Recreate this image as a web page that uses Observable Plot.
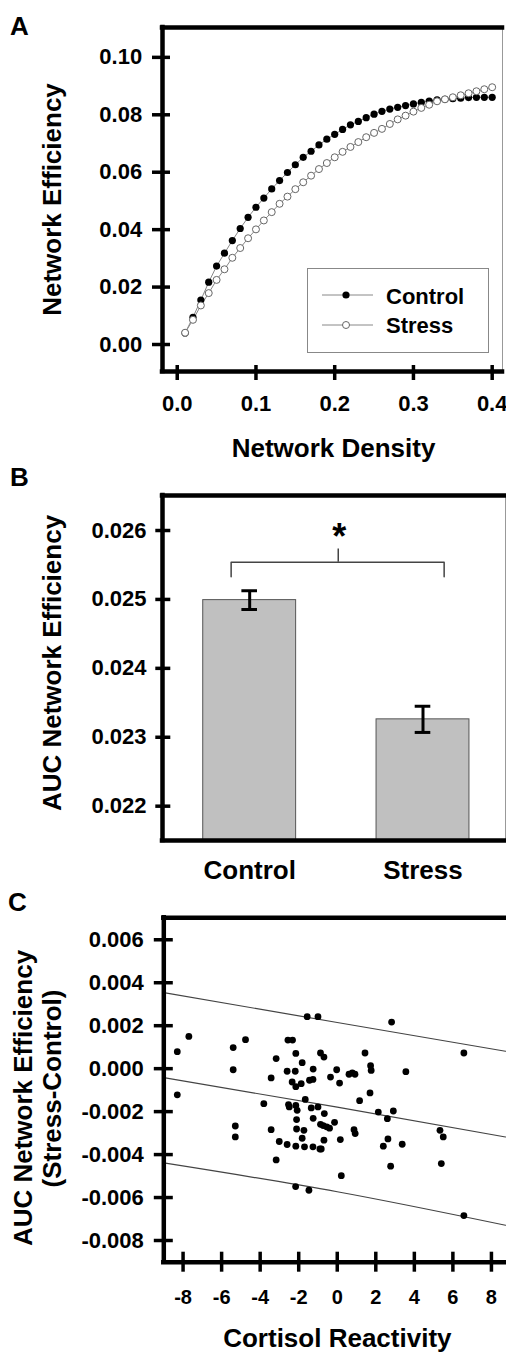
<!DOCTYPE html>
<html><head><meta charset="utf-8">
<script src="https://cdn.jsdelivr.net/npm/d3@7"></script>
<script src="https://cdn.jsdelivr.net/npm/@observablehq/plot@0.6"></script>
<style>
body{margin:0;background:#fff;}
#wrap{position:relative;width:506px;height:1355px;overflow:hidden;font-family:'Liberation Sans',Arial,sans-serif;background:#fff;}
.panel{position:absolute;left:0;}
#over{position:absolute;left:0;top:0;pointer-events:none;}
</style></head><body>
<div id="wrap">
  <div class="panel" id="pa" style="top:0px"></div>
  <div class="panel" id="pb" style="top:470px"></div>
  <div class="panel" id="pc" style="top:890px"></div>
  <svg id="over" width="506" height="1355" font-family="'Liberation Sans',Arial,sans-serif" font-weight="bold">
    <text x="10" y="35" font-size="26">A</text>
    <text x="10" y="486" font-size="26">B</text>
    <text x="8" y="911" font-size="26">C</text>
    <g id="legend">
      <rect x="307.5" y="268.5" width="181" height="84" fill="#fff" stroke="#888" stroke-width="1"></rect>
      <line x1="322" x2="373" y1="295" y2="295" stroke="#888" stroke-width="1"></line>
      <circle cx="346" cy="295" r="3.6" fill="#000"></circle>
      <text x="386" y="304" font-size="22">Control</text>
      <line x1="322" x2="373" y1="325" y2="325" stroke="#888" stroke-width="1"></line>
      <circle cx="346" cy="325" r="3.5" fill="#fff" stroke="#666" stroke-width="1"></circle>
      <text x="386" y="333" font-size="22">Stress</text>
    </g>
  </svg>
</div>
<script>
// ---------- Panel A data ----------
const density = [0.01,0.02,0.03,0.04,0.05,0.06,0.07,0.08,0.09,0.10,0.11,0.12,0.13,0.14,0.15,0.16,0.17,0.18,0.19,0.20,0.21,0.22,0.23,0.24,0.25,0.26,0.27,0.28,0.29,0.30,0.31,0.32,0.33,0.34,0.35,0.36,0.37,0.38,0.39,0.40];
const controlEff = [0.0040,0.0095,0.0155,0.0217,0.0273,0.0318,0.0362,0.0404,0.0443,0.0478,0.0510,0.0542,0.0571,0.0599,0.0626,0.0652,0.0673,0.0695,0.0715,0.0732,0.0749,0.0765,0.0777,0.0790,0.0802,0.0812,0.0820,0.0826,0.0832,0.0838,0.0843,0.0848,0.0852,0.0854,0.0856,0.0858,0.0860,0.0861,0.0861,0.0861];
const stressEff = [0.0041,0.0086,0.0136,0.0179,0.0225,0.0262,0.0302,0.0336,0.0370,0.0401,0.0432,0.0461,0.0490,0.0515,0.0541,0.0565,0.0588,0.0611,0.0632,0.0652,0.0671,0.0688,0.0705,0.0722,0.0737,0.0751,0.0768,0.0784,0.0797,0.0811,0.0824,0.0835,0.0847,0.0854,0.0861,0.0868,0.0875,0.0882,0.0889,0.0896];
const effTicks = [0.00,0.02,0.04,0.06,0.08,0.10];
const densityTicks = [0.0,0.1,0.2,0.3,0.4];

// ---------- Panel B data ----------
const groups = ["Control","Stress"];
const aucMean = [0.02499,0.02326];
const aucSE = [0.000136,0.00019];
const aucTicks = [0.022,0.023,0.024,0.025,0.026];

// ---------- Panel C data ----------
const cortisol = [-8.30,-7.70,-8.30,-5.40,-5.40,-4.76,-5.29,-5.29,-3.81,-3.43,
 -3.17,-3.43,-3.01,-3.17,-2.56,-2.32,-2.15,-1.82,-2.60,-2.18,
 -2.34,-2.15,-1.87,-1.44,-1.26,-1.25,-1.56,-1.00,-0.87,-0.69,
 -0.35,-0.03,0.12,0.61,0.78,0.92,1.44,1.73,1.76,2.82,
 3.56,6.57,1.70,1.16,-1.66,-2.53,-2.49,-2.15,-2.08,-1.35,
 -1.00,-1.25,-0.67,-2.11,-0.87,-0.73,-0.55,-0.40,-0.14,-2.11,
 -1.73,-0.69,-1.82,-2.60,-2.15,-1.70,-1.26,-0.90,-0.83,0.16,
 0.87,0.93,2.13,2.60,2.91,2.63,2.39,3.37,5.33,5.50,
 5.40,2.77,0.21,-2.16,-1.47,6.57];
const aucDiff = [0.00079,0.00150,-0.00122,0.00098,-0.00005,0.00135,-0.00267,-0.00318,-0.00163,-0.00043,
 0.00047,-0.00284,-0.00339,-0.00425,0.00133,0.00133,0.00071,0.00028,-0.00012,-0.00012,
 -0.00062,-0.00084,-0.00070,-0.00054,-0.00050,-0.00002,0.00242,0.00242,0.00073,0.00054,
 -0.00039,-0.00005,-0.00067,-0.00026,-0.00020,-0.00026,0.00073,0.00014,-0.00008,0.00217,
 -0.00014,0.00073,-0.00113,-0.00149,-0.00143,-0.00167,-0.00178,-0.00171,-0.00194,-0.00183,
 -0.00178,-0.00231,-0.00209,-0.00237,-0.00259,-0.00265,-0.00271,-0.00277,-0.00250,-0.00281,
 -0.00287,-0.00333,-0.00324,-0.00353,-0.00361,-0.00364,-0.00364,-0.00374,-0.00374,-0.00330,
 -0.00284,-0.00302,-0.00202,-0.00233,-0.00197,-0.00327,-0.00361,-0.00352,-0.00287,-0.00318,
 -0.00442,-0.00454,-0.00498,-0.00549,-0.00566,-0.00684];
const fitX = [-9.0,0.0,8.73];
const fitMid = [-0.00042,-0.00179,-0.00318];
const fitUpper = [0.00354,0.00215,0.00081];
const fitLower = [-0.00439,-0.00573,-0.00729];
const cortTicks = [-8,-6,-4,-2,0,2,4,6,8];
const diffTicks = [-0.008,-0.006,-0.004,-0.002,0.000,0.002,0.004,0.006];

const FONT = "'Liberation Sans', Arial, sans-serif";
const baseStyle = {fontFamily: FONT, fontSize: "22px", fontWeight: "bold", background: "transparent", color: "#000", overflow: "visible"};
const AX = 4.5; // frame thickness
const yTitle = (txt, dx, dy) => Plot.text([txt], {frameAnchor: "left", rotate: -90, dx, dy, textAnchor: "middle", lineAnchor: "bottom", fontSize: 26});

// ---------- Panel A ----------
{
  const xd = [-0.0187, 0.4131], yd = [-0.0094, 0.1104];
  const ctrl = density.map((d, i) => ({density: d, eff: controlEff[i]}));
  const strs = density.map((d, i) => ({density: d, eff: stressEff[i]}));
  const p = Plot.plot({
    width: 506, height: 470, marginTop: 27, marginBottom: 99, marginLeft: 162, marginRight: 4,
    x: {domain: xd}, y: {domain: yd},
    style: baseStyle,
    marks: [
      Plot.line(ctrl, {x: "density", y: "eff", stroke: "#888", strokeWidth: 1}),
      Plot.line(strs, {x: "density", y: "eff", stroke: "#888", strokeWidth: 1}),
      Plot.dot(ctrl, {x: "density", y: "eff", r: 3.6, fill: "#000"}),
      Plot.dot(strs, {x: "density", y: "eff", r: 3.5, fill: "#fff", stroke: "#666", strokeWidth: 1}),
      Plot.ruleX([xd[1]], {stroke: "#999", strokeWidth: 1}),
      Plot.ruleY([yd[1]], {stroke: "#000", strokeWidth: AX, strokeLinecap: "square"}),
      Plot.ruleX([xd[0]], {stroke: "#000", strokeWidth: AX, strokeLinecap: "square"}),
      Plot.ruleY([yd[0]], {stroke: "#000", strokeWidth: AX, strokeLinecap: "square"}),
      Plot.axisY(effTicks, {tickFormat: d => d.toFixed(2), tickSize: 18, dx: 8, tickPadding: 10.3, strokeWidth: 3.5, label: null, fontSize: 22}),
      Plot.axisX(densityTicks, {tickFormat: d => d.toFixed(1), tickSize: 15, dy: -6, tickPadding: 15, strokeWidth: 3.5, label: null, fontSize: 22}),
      yTitle("Network Efficiency", -102, 0),
      Plot.text(["Network Density"], {frameAnchor: "bottom", dx: 1, dy: 85.7, textAnchor: "middle", lineAnchor: "bottom", fontSize: 26})
    ]
  });
  document.getElementById("pa").appendChild(p);
}

// ---------- Panel B ----------
{
  const xd = [-0.503, 1.476], yd = [0.021502, 0.026508];
  const bars = groups.map((g, i) => ({i, group: g, mean: aucMean[i], se: aucSE[i]}));
  const hw = 0.268, cap = 0.045;
  const legL = -0.107, legR = 1.122, mid = 0.511;
  const brY = 0.02554, legY = 0.02533, midTop = 0.02573;
  const bracket = [{x: legL, y: legY}, {x: legL, y: brY}, {x: legR, y: brY}, {x: legR, y: legY}];
  const p = Plot.plot({
    width: 506, height: 420, marginTop: 25, marginBottom: 50, marginLeft: 162, marginRight: 1,
    x: {domain: xd}, y: {domain: yd},
    style: baseStyle,
    marks: [
      Plot.rectY(bars, {x1: d => d.i - hw, x2: d => d.i + hw, y1: () => yd[0], y2: "mean", fill: "#c0c0c0", stroke: "#555", strokeWidth: 1}),
      Plot.ruleX(bars, {x: "i", y1: d => d.mean - d.se, y2: d => d.mean + d.se, stroke: "#000", strokeWidth: 3}),
      Plot.ruleY(bars, {y: d => d.mean + d.se, x1: d => d.i - cap, x2: d => d.i + cap, stroke: "#000", strokeWidth: 3}),
      Plot.ruleY(bars, {y: d => d.mean - d.se, x1: d => d.i - cap, x2: d => d.i + cap, stroke: "#000", strokeWidth: 3}),
      Plot.line(bracket, {x: "x", y: "y", stroke: "#444", strokeWidth: 1.5}),
      Plot.ruleX([mid], {y1: brY, y2: midTop, stroke: "#444", strokeWidth: 1.5}),
      Plot.text(["*"], {x: () => mid, y: () => midTop, dx: 1, lineAnchor: "bottom", fontSize: 36}),
      Plot.ruleX([xd[1]], {stroke: "#999", strokeWidth: 1}),
      Plot.ruleY([yd[1]], {stroke: "#000", strokeWidth: AX, strokeLinecap: "square"}),
      Plot.ruleX([xd[0]], {stroke: "#000", strokeWidth: AX, strokeLinecap: "square"}),
      Plot.ruleY([yd[0]], {stroke: "#000", strokeWidth: AX, strokeLinecap: "square"}),
      Plot.axisY(aucTicks, {tickFormat: d => d.toFixed(3), tickSize: 15, dx: 8.3, tickPadding: 9.3, strokeWidth: 3.5, label: null, fontSize: 22}),
      Plot.axisX([0, 1], {tickFormat: i => groups[i], tickSize: 0, tickPadding: 20, label: null, fontSize: 26}),
      yTitle("AUC Network Efficiency", -102, -5)
    ]
  });
  document.getElementById("pb").appendChild(p);
}

// ---------- Panel C ----------
{
  const xd = [-9.0, 8.73], yd = [-0.00901, 0.007023];
  const pts = cortisol.map((c, i) => ({c, d: aucDiff[i]}));
  const fit = (arr) => fitX.map((x, i) => ({x, y: arr[i]}));
  const p = Plot.plot({
    width: 506, height: 465, marginTop: 27.3, marginBottom: 93.3, marginLeft: 163.3, marginRight: 1,
    x: {domain: xd}, y: {domain: yd},
    style: baseStyle,
    marks: [
      Plot.line(fit(fitUpper), {x: "x", y: "y", stroke: "#444", strokeWidth: 1.2, curve: "natural"}),
      Plot.line(fit(fitMid), {x: "x", y: "y", stroke: "#444", strokeWidth: 1.2, curve: "natural"}),
      Plot.line(fit(fitLower), {x: "x", y: "y", stroke: "#444", strokeWidth: 1.2, curve: "natural"}),
      Plot.dot(pts, {x: "c", y: "d", r: 3.4, fill: "#000"}),
      Plot.ruleY([yd[1]], {stroke: "#000", strokeWidth: AX, strokeLinecap: "square"}),
      Plot.ruleX([xd[0]], {stroke: "#000", strokeWidth: AX, strokeLinecap: "square"}),
      Plot.ruleY([yd[0]], {stroke: "#000", strokeWidth: AX, strokeLinecap: "square"}),
      Plot.axisY(diffTicks, {tickFormat: d => d.toFixed(3), tickSize: 19, dx: 9.5, tickPadding: 10.5, strokeWidth: 3.5, label: null, fontSize: 22}),
      Plot.axisX(cortTicks, {tickFormat: d => String(d), tickSize: 20, dy: -10, tickPadding: 17.6, strokeWidth: 3.5, label: null, fontSize: 20}),
      yTitle("AUC Network Efficiency", -132, 8),
      yTitle("(Stress-Control)", -103, -1.5),
      Plot.text(["Cortisol Reactivity"], {frameAnchor: "bottom", dx: 2.7, dy: 85, textAnchor: "middle", lineAnchor: "bottom", fontSize: 26})
    ]
  });
  document.getElementById("pc").appendChild(p);
}
</script>
</body></html>
